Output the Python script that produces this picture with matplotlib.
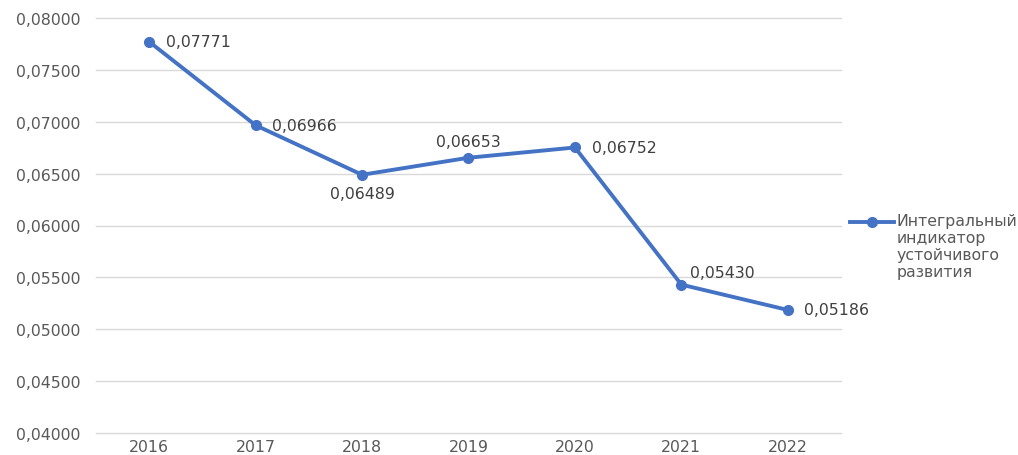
import matplotlib
matplotlib.use("Agg")
import matplotlib.pyplot as plt
from matplotlib.ticker import FuncFormatter
from matplotlib.lines import Line2D

plt.rcParams["font.family"] = ["DejaVu Sans"]

years = ["2016", "2017", "2018", "2019", "2020", "2021", "2022"]
values = [0.07771, 0.06966, 0.06489, 0.06653, 0.06752, 0.05430, 0.05186]
series_name = "Интегральный\nиндикатор\nустойчивого\nразвития"

blue = "#4472C4"
grey = "#595959"
fs = 11.3

fig = plt.figure(figsize=(10.18, 4.56), dpi=100)
ax = fig.add_axes([96/1018, 22/456, 745/1018, 415/456])

x = list(range(len(years)))
line, = ax.plot(x, values, color=blue, lw=2.8, marker="o", ms=7, zorder=3,
                solid_capstyle="round")

ax.set_xlim(-0.5, len(years) - 0.5)
ax.set_ylim(0.04, 0.08)
ax.set_yticks([0.04 + 0.005 * i for i in range(9)])
ax.yaxis.set_major_formatter(FuncFormatter(lambda v, p: f"{v:.5f}".replace(".", ",")))
ax.set_xticks(x)
ax.set_xticklabels(years)
ax.grid(axis="y", color="#D9D9D9", lw=1)
for gl in ax.get_ygridlines():
    gl.set_clip_on(False)
ax.set_axisbelow(True)
for s in ax.spines.values():
    s.set_visible(False)
ax.tick_params(axis="both", length=0, colors=grey, labelsize=fs)
ax.tick_params(axis="y", pad=11)
ax.tick_params(axis="x", pad=4)

# label placements (offset in points)
offsets = {
    0: (12, 0, "left", "center"),
    1: (12, 0, "left", "center"),
    2: (0, -8, "center", "top"),
    3: (0, 6, "center", "bottom"),
    4: (12, 0, "left", "center"),
    5: (6, 3, "left", "bottom"),
    6: (12, 0, "left", "center"),
}
for i, v in enumerate(values):
    dx, dy, ha, va = offsets[i]
    ax.annotate(f"{v:.5f}".replace(".", ","), (i, v), xytext=(dx, dy),
                textcoords="offset points", ha=ha, va=va, color="#404040",
                fontsize=fs)

# legend (manual, handle aligned with first text line)
ly = 1 - 223/456
fig.add_artist(Line2D([850/1018, 894/1018], [ly, ly], color=blue, lw=2.8,
                      transform=fig.transFigure))
fig.add_artist(Line2D([872/1018], [ly], color=blue, marker="o", ms=7,
                      transform=fig.transFigure))
fig.text(897/1018, 1 - 214/456, series_name, ha="left", va="top",
         color=grey, fontsize=fs, linespacing=1.18)

fig.savefig("out.png", dpi=100)
